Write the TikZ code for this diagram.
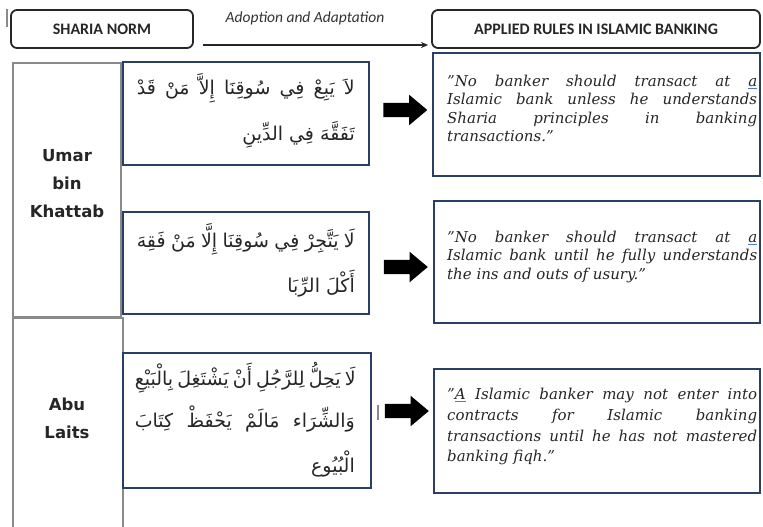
\documentclass[tikz,border=0pt]{standalone}
\usepackage{fontspec}
\setmainfont{DejaVu Serif}
\newfontfamily\arabicfont[Script=Arabic]{DejaVu Sans}
\newfontfamily\hdrfont{Carlito}
\newfontfamily\lblfont{DejaVu Sans}
\usetikzlibrary{shapes.arrows,calc,arrows.meta}
\TeXXeTstate=1
\definecolor{navy}{HTML}{2A3F68}
\definecolor{cellgray}{HTML}{8A8A8A}
\definecolor{spell}{HTML}{4A7BD0}
\newsavebox\sqbox
\newcommand{\squig}[1]{\sbox\sqbox{#1}\rlap{\textcolor{spell}{\rule[-2.6pt]{\wd\sqbox}{1.1pt}}}\usebox\sqbox}
\begin{document}
\begin{tikzpicture}[x=1pt,y=-1pt,
 hdr/.style={draw=black!85,line width=1.8pt,rounded corners=6pt,minimum height=38pt,font=\hdrfont\bfseries\fontsize{16}{18}\selectfont,inner sep=0pt,text=black!85},
 bluebox/.style={draw=navy,line width=1.6pt,inner sep=0pt},
 cell/.style={draw=cellgray,line width=1.4pt,inner sep=0pt},
 person/.style={font=\lblfont\bfseries\fontsize{16.5}{28}\selectfont,align=center,text=black!85,inner sep=0pt},
 quote/.style={font=\itshape\fontsize{15}{18.3}\selectfont,text width=310pt,align=justify,inner sep=0pt,anchor=north west,text=black!85},
 ar/.style={font=\arabicfont\fontsize{19}{22}\selectfont,inner sep=0pt,anchor=base east,text=black!85},
 bigarrow/.style={single arrow,fill=black,draw=none,minimum height=44pt,minimum width=30pt,single arrow head extend=8pt,inner xsep=0pt,inner ysep=7pt,single arrow tip angle=80}
]
\useasboundingbox (0,0) rectangle (763,527);

% header
\node[hdr,minimum width=182pt] (sharia) at (102,29) {SHARIA NORM};
\node[hdr,minimum width=328pt] (applied) at (596,29) {APPLIED RULES IN ISLAMIC BANKING};
\coordinate (arrS) at ([xshift=9pt]sharia.east |- 0,45);
\coordinate (arrE) at ([xshift=-3pt]applied.west |- 0,45);
\draw[line width=1.8pt,black!85,-{Stealth[length=7pt,width=6pt]}] (arrS) -- (arrE);
\node[font=\hdrfont\itshape\fontsize{15.5}{17}\selectfont,text=black!80,inner sep=0pt] (adopt) at (305,18) {Adoption and Adaptation};

% stray table marks
\draw[cellgray,line width=1.2pt] (7,9) -- (7,27);
\draw[cellgray,line width=1.2pt] (378,405) -- (378,420);

% left cells
\node[cell,minimum width=108pt,minimum height=254pt] (umarcell) at (67,190) {};
\node[cell,minimum width=110pt,minimum height=227pt] (abucell) at (68,431.5) {};
\node[person] (umar) at (67,184) {Umar\\bin\\Khattab};
\node[person] (abu) at (67,418) {Abu\\Laits};

% arabic boxes
\node[bluebox,fill=white,minimum width=246pt,minimum height=103pt] (a1) at (246,113.5) {};
\node[bluebox,fill=white,minimum width=246pt,minimum height=102pt] (a2) at (246,263) {};
\node[bluebox,fill=white,minimum width=248pt,minimum height=135pt] (a3) at (247,420.5) {};

\node[ar] (a1l1) at (355,95) {\makebox[218pt][s]{\beginR لاَ يَبِعْ فِي سُوقِنَا إِلاَّ مَنْ قَدْ\endR}};
\node[ar] (a1l2) at (355,140) {\beginR تَفَقَّهَ فِي الدِّينِ\endR};
\node[ar] (a2l1) at (355,247) {\makebox[218pt][s]{\beginR لَا يَتَّجِرْ فِي سُوقِنَا إِلَّا مَنْ فَقِهَ\endR}};
\node[ar] (a2l2) at (355,292) {\beginR أَكْلَ الرِّبَا\endR};
\node[ar] (a3l1) at (355,385) {\makebox[220pt][s]{\beginR لَا يَحِلُّ لِلرَّجُلِ أَنْ يَشْتَغِلَ بِالْبَيْعِ\endR}};
\node[ar] (a3l2) at (355,427) {\makebox[220pt][s]{\beginR وَالشِّرَاء مَالَمْ يَحْفَظْ كِتَابَ\endR}};
\node[ar] (a3l3) at (355,472) {\beginR الْبُيُوع\endR};

% english boxes
\node[bluebox,minimum width=327pt,minimum height=123pt] (r1) at (596.5,114.5) {};
\node[bluebox,minimum width=326pt,minimum height=122pt] (r2) at (597,262) {};
\node[bluebox,minimum width=326pt,minimum height=124pt] (r3) at (597,431) {};

\node[quote] (q1) at (447,75) {"No banker should transact at \squig{a}\linebreak Islamic bank unless he understands\linebreak Sharia principles in banking\linebreak transactions."};
\node[quote] (q2) at (447,231) {"No banker should transact at \squig{a}\linebreak Islamic bank until he fully understands\linebreak the ins and outs of usury."};
\node[quote,font=\itshape\fontsize{15}{20.7}\selectfont] (q3) at (447,388) {"\squig{A} Islamic banker may not enter into\linebreak contracts for Islamic banking\linebreak transactions until he has not mastered\linebreak banking fiqh."};

% block arrows
\coordinate (m1) at ($(a1.east)!0.5!(r1.west)$);
\coordinate (m2) at ($(a2.east)!0.5!(r2.west)$);
\coordinate (m3) at ($(a3.east)!0.5!(r3.west)$);
\node[bigarrow] (ar1) at (m1 |- 0,110) {};
\node[bigarrow] (ar2) at (m2 |- 0,267) {};
\node[bigarrow] (ar3) at (m3 |- 0,411) {};
\end{tikzpicture}
\end{document}
